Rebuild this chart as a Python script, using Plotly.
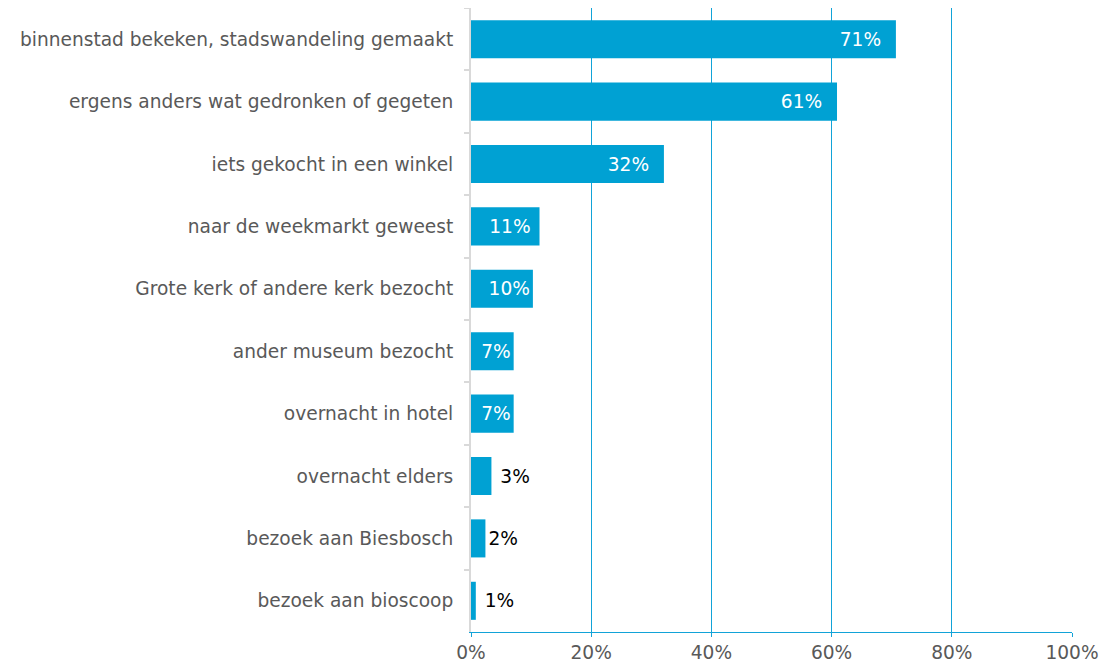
import plotly.graph_objects as go

categories = [
    "binnenstad bekeken, stadswandeling gemaakt",
    "ergens anders wat gedronken of gegeten",
    "iets gekocht in een winkel",
    "naar de weekmarkt geweest",
    "Grote kerk of andere kerk bezocht",
    "ander museum bezocht",
    "overnacht in hotel",
    "overnacht elders",
    "bezoek aan Biesbosch",
    "bezoek aan bioscoop",
]
values = [70.7, 60.9, 32.1, 11.4, 10.3, 7.1, 7.1, 3.4, 2.4, 0.8]
labels = ["71%", "61%", "32%", "11%", "10%", "7%", "7%", "3%", "2%", "1%"]
positions = ["inside"] * 7 + ["outside"] * 3

NB = "\u00a0"
# small padding tweaks so the labels sit where the original places them
display_text = [
    labels[0] + NB * 2,
    labels[1] + NB * 2,
    labels[2] + NB * 2,
    labels[3] + NB,
    labels[4],
    labels[5],
    labels[6],
    NB + labels[7],
    labels[8],
    NB + labels[9],
]

BLUE = "#00A1D3"
GRID = "#12A3D8"
FONT = "DejaVu Sans"
FS = 18.6

fig = go.Figure(
    go.Bar(
        x=values,
        y=categories,
        orientation="h",
        marker=dict(color=BLUE, line=dict(width=0)),
        text=display_text,
        textposition=positions,
        insidetextanchor="end",
        insidetextfont=dict(color="white", size=FS, family=FONT),
        outsidetextfont=dict(color="black", size=FS, family=FONT),
        cliponaxis=False,
        hoverinfo="skip",
    )
)

fig.update_layout(
    width=1118,
    height=665,
    margin=dict(l=463, r=54, t=0, b=41),
    paper_bgcolor="white",
    plot_bgcolor="white",
    bargap=0.39,
    showlegend=False,
    font=dict(family=FONT, size=FS, color="#595959"),
)

fig.update_xaxes(
    range=[0, 100],
    dtick=20,
    ticksuffix="%",
    showgrid=True,
    gridcolor=GRID,
    gridwidth=1,
    showline=True,
    linecolor=GRID,
    linewidth=1,
    ticks="outside",
    ticklen=4,
    tickcolor=GRID,
    zeroline=False,
    tickfont=dict(size=FS, color="#595959"),
    fixedrange=True,
)

fig.update_yaxes(
    autorange="reversed",
    showline=True,
    linecolor="#D9D9D9",
    linewidth=2,
    ticks="outside",
    tickson="boundaries",
    ticklen=5,
    tickcolor="#D9D9D9",
    tickwidth=2,
    ticklabelstandoff=12,
    showgrid=False,
    tickfont=dict(size=FS, color="#595959"),
    fixedrange=True,
)

fig.write_html("out.html")
